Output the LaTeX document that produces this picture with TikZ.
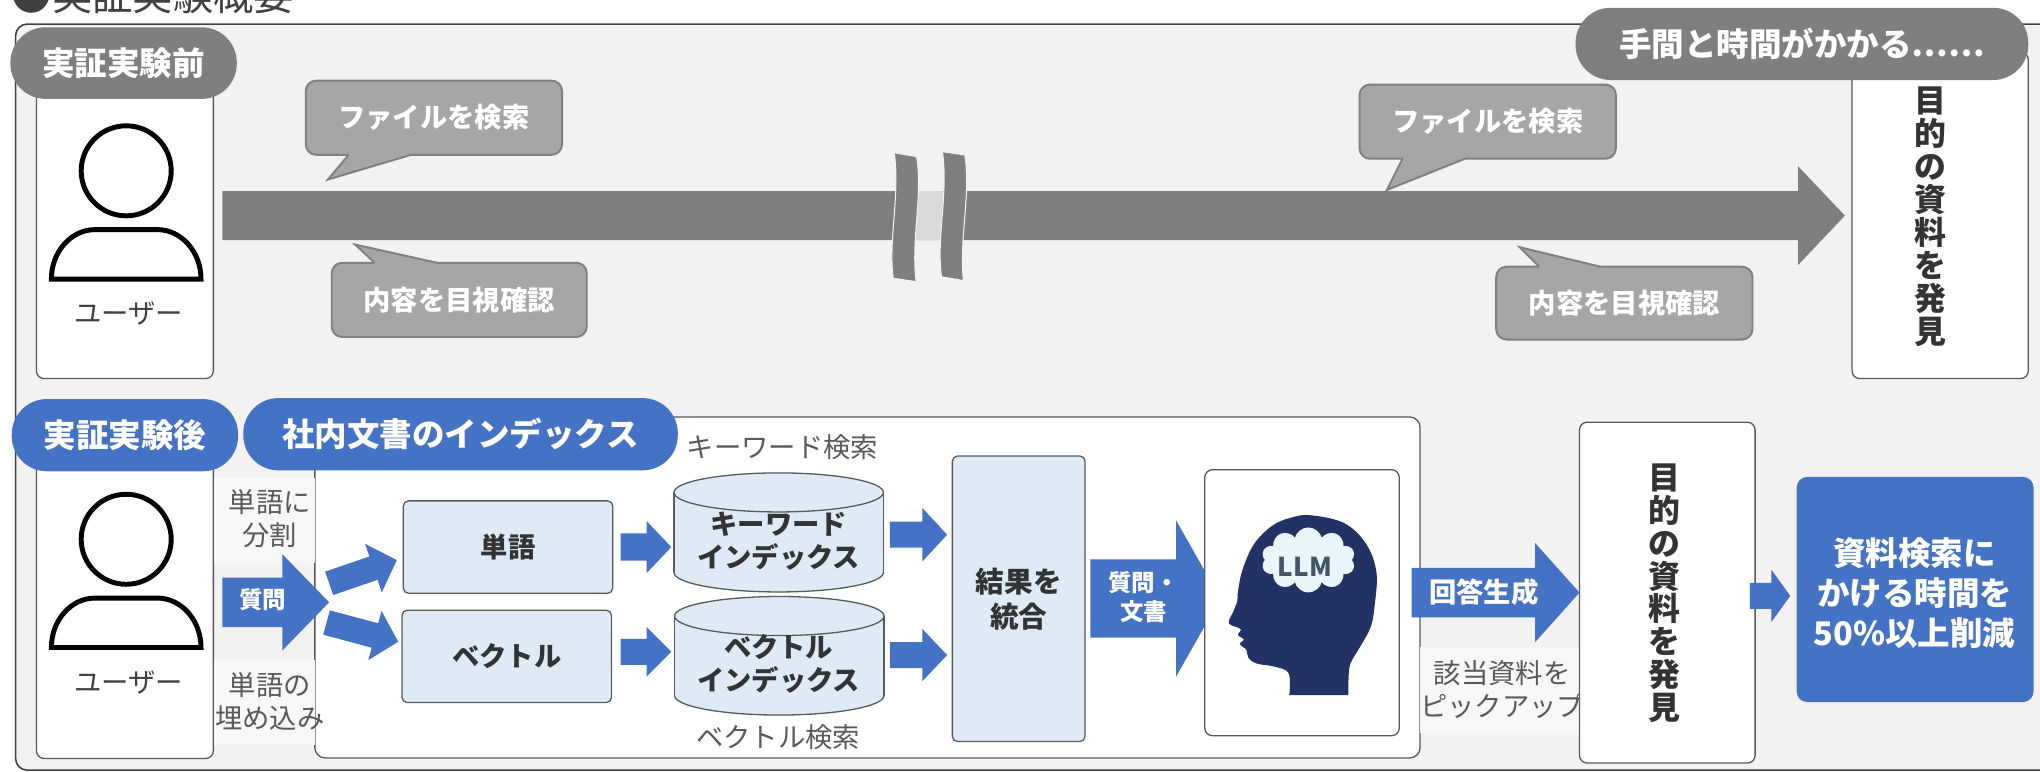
\documentclass[tikz,border=0pt]{standalone}
\usepackage{fontspec}
\setmainfont{Noto Sans CJK JP}
\usetikzlibrary{shapes.symbols}

\definecolor{framebg}{HTML}{F2F2F2}
\definecolor{framedark}{HTML}{404040}
\definecolor{frameln}{HTML}{595959}
\definecolor{pillgray}{HTML}{7F7F7F}
\definecolor{bubblebg}{HTML}{A6A6A6}
\definecolor{bubbleln}{HTML}{808080}
\definecolor{brkgap}{HTML}{D9D9D9}
\definecolor{accent}{HTML}{4472C4}
\definecolor{paleblue}{HTML}{DEEBF7}
\definecolor{navy}{HTML}{233264}
\definecolor{cloudc}{HTML}{E8F6FC}
\definecolor{llmtxt}{HTML}{44546A}
\definecolor{txtdark}{HTML}{333333}
\definecolor{txtgray}{HTML}{595959}
\definecolor{labelbg}{HTML}{F7F7F7}

% block arrow: style, tail x, tail y, angle, shaft length, total length, shaft half width, head half width
\newcommand{\blockarrow}[8]{%
  \fill[#1,shift={(#2,#3)},rotate=#4] (0,-#7) -- (#5,-#7) -- (#5,-#8) -- (#6,0)
    -- (#5,#8) -- (#5,#7) -- (0,#7) -- cycle;}

% person outline, placed by the centre of its head
\newcommand{\usericon}[2]{%
  \begin{scope}[shift={(#1,#2)}]
    \draw[line width=3.8pt, fill=white] (0,0) circle[radius=34.6pt];
    \draw[line width=3.8pt, fill=white] (-57.5,83.2) -- (57.5,83.2)
      .. controls (57.5,62.3) and (42.4,45.2) .. (24,45.2) -- (-24,45.2)
      .. controls (-42.4,45.2) and (-57.5,62.3) .. (-57.5,83.2) -- cycle;
  \end{scope}}

% database drum: centre x, top ellipse y, bottom ellipse y, x radius
\newcommand{\drum}[4]{%
  \draw[fill=paleblue, draw=frameln, line width=1pt] (#1,#3) ellipse[x radius=#4pt, y radius=15pt];
  \fill[paleblue] (#1-#4,#2) rectangle (#1+#4,#3);
  \draw[frameln, line width=1pt] (#1-#4,#2) -- (#1-#4,#3) (#1+#4,#2) -- (#1+#4,#3);
  \draw[fill=paleblue, draw=frameln, line width=1pt] (#1,#2) ellipse[x radius=#4pt, y radius=15pt];}

\begin{document}
\begin{tikzpicture}[x=1pt, y=-1pt,
  every node/.style={inner sep=0pt, outer sep=0pt},
  panel/.style={draw=frameln, line width=1pt, fill=white, rounded corners=6pt},
  palebox/.style={draw=frameln, line width=1pt, fill=paleblue, rounded corners=4pt},
  pill/.style={fill=#1, rounded corners=27pt, text=white, font=\fontsize{25}{25}\selectfont\bfseries},
  bubble/.style={fill=bubblebg, draw=bubbleln, line width=1.5pt, rounded corners=8pt},
  bubbletext/.style={text=white, font=\fontsize{21}{21}\selectfont\bfseries},
  note/.style={text=txtgray, font=\fontsize{21}{25.5}\selectfont, align=center},
  boxtext/.style={text=txtdark, font=\fontsize{21}{25.4}\selectfont\bfseries, align=center},
  vtext/.style={text=txtdark, font=\fontsize{24.5}{25.3}\selectfont\bfseries, align=center},
  labelrect/.style={fill=labelbg},
]
\useasboundingbox (0,0) rectangle (1568,593);
\clip (0,0) rectangle (1568,593);

% heading
\node[anchor=base west, text=framedark, font=\fontsize{31}{31}\selectfont] (heading) at (9,8) {●実証実験概要};

% outer panel
\draw[fill=framebg, draw=framedark, line width=1.2pt, rounded corners=9pt] (12,18.5) rectangle (1620,592);

% ---------- before ----------
\node[panel, minimum width=136pt, minimum height=231pt] (userA) at (96,175.5) {};
\usericon{97}{131.3}
\node[note, text=framedark] (userAname) at (99,241) {ユーザー};
\node[pill=pillgray, minimum width=174pt, minimum height=55pt] (before) at (95,48.5) {実証実験前};

% long manual path with a break
\blockarrow{pillgray}{171}{165.75}{0}{1211}{1247}{18.75}{38}
\fill[brkgap] (703,147) rectangle (725,184.5);
\filldraw[fill=pillgray, draw=framebg, line width=0.8pt]
  (687.3,117.4) -- (704.5,120.4) .. controls (709.5,150) and (700,185) .. (704.2,216.5)
  -- (686.6,213.9) .. controls (682.5,185) and (692,150) .. (687.3,117.4) -- cycle;
\filldraw[fill=pillgray, draw=framebg, line width=0.8pt]
  (724.4,116.6) -- (741.5,119.1) .. controls (746.5,149) and (737,184) .. (740.5,215.7)
  -- (723.7,212.7) .. controls (719.5,184) and (729,149) .. (724.4,116.6) -- cycle;

% speech bubbles
\draw[bubble] (235,62) rectangle (432,119);
\fill[bubblebg] (268,116) -- (268,119) -- (252,138) -- (316,119) -- (316,116) -- cycle;
\draw[bubbleln, line width=1.5pt] (268,119) -- (252,138) -- (316,119);
\node[bubbletext] (searchA) at (333.5,90.5) {ファイルを検索};

\draw[bubble] (255,202) rectangle (451,259);
\fill[bubblebg] (288,205) -- (288,202) -- (273,188) -- (336,202) -- (336,205) -- cycle;
\draw[bubbleln, line width=1.5pt] (288,202) -- (273,188) -- (336,202);
\node[bubbletext] (checkA) at (353,231) {内容を目視確認};

\draw[bubble] (1045,65) rectangle (1242,122);
\fill[bubblebg] (1078,119) -- (1078,122) -- (1066,146) -- (1126,122) -- (1126,119) -- cycle;
\draw[bubbleln, line width=1.5pt] (1078,122) -- (1066,146) -- (1126,122);
\node[bubbletext] (searchB) at (1143.5,93.5) {ファイルを検索};

\draw[bubble] (1150,205) rectangle (1347,261);
\fill[bubblebg] (1183,208) -- (1183,205) -- (1168,190) -- (1230,205) -- (1230,208) -- cycle;
\draw[bubbleln, line width=1.5pt] (1183,205) -- (1168,190) -- (1230,205);
\node[bubbletext] (checkB) at (1248.5,233) {内容を目視確認};

% result before
\node[panel, minimum width=135.5pt, minimum height=251pt] (goalA) at (1491.25,165.5) {};
\node[vtext] (goalAtext) at (1483.5,166.5) {目\\的\\の\\資\\料\\を\\発\\見};
\node[pill=pillgray, minimum width=348pt, minimum height=55.5pt] (effort) at (1385,33.75) {手間と時間がかかる⋯⋯};

% ---------- after ----------
\node[panel, minimum width=136pt, minimum height=238pt] (userB) at (96,464) {};
\usericon{97}{414.5}
\node[note, text=framedark] (userBname) at (99,525) {ユーザー};

\node[panel, rounded corners=8pt, minimum width=849.5pt, minimum height=262.1pt] (index) at (666.75,451.55) {};

\node[pill=accent, minimum width=174pt, minimum height=55.5pt] (after) at (96,334.5) {実証実験後};
\node[pill=accent, minimum width=334pt, minimum height=55.5pt] (indexhead) at (354,333.75) {社内文書のインデックス};

% side notes
\node[labelrect, minimum width=77.4pt, minimum height=65.5pt] (splitbg) at (203.3,400.25) {};
\node[note] (split) at (207.5,398.5) {単語に\\分割};
\node[labelrect, minimum width=77.4pt, minimum height=66pt] (embedbg) at (203.3,540) {};
\node[note] (embed) at (207.5,539.3) {単語の\\埋め込み};

% question
\blockarrow{accent}{171}{463}{0}{46}{82}{19}{37}
\node[text=white, font=\fontsize{18}{18}\selectfont\bfseries] (question) at (202,461) {質問};
\blockarrow{accent}{253}{448.4}{19}{36}{55}{9.5}{19.7}
\blockarrow{accent}{251}{478.5}{-15}{38.5}{57}{9.7}{19.6}

\node[palebox, minimum width=161pt, minimum height=71pt] (word) at (390.5,420.5) {};
\node[boxtext] (wordtext) at (390.5,420.5) {単語};
\node[palebox, minimum width=161pt, minimum height=71pt] (vector) at (389.5,504.5) {};
\node[boxtext] (vectortext) at (389.5,504.5) {ベクトル};

\blockarrow{accent}{477}{420.5}{0}{20}{39}{10.5}{20}
\blockarrow{accent}{477}{501}{0}{20}{39}{10}{19}

% indexes
\node[note] (kwsearch) at (601.5,343.5) {キーワード検索};
\drum{598.5}{378.5}{440}{80.5}
\node[boxtext] (kwindex) at (598.5,416.3) {キーワード\\インデックス};
\drum{599}{473.5}{534.6}{80.5}
\node[boxtext] (vecindex) at (598.5,510.5) {ベクトル\\インデックス};
\node[note] (vecsearch) at (598,566.5) {ベクトル検索};

\blockarrow{accent}{684}{411}{0}{25}{44}{10}{20.5}
\blockarrow{accent}{684}{503.5}{0}{25}{44}{10}{20}

\node[palebox, minimum width=102pt, minimum height=219.5pt] (merge) at (783,460.25) {};
\node[boxtext, font=\fontsize{22}{27}\selectfont\bfseries] (mergetext) at (783,460.5) {結果を\\統合};

\blockarrow{accent}{838}{460}{0}{66}{100}{30}{60}
\node[text=white, font=\fontsize{18}{22}\selectfont\bfseries, align=center] (qdoc) at (879,459) {質問・\\文書};

% language model
\node[panel, minimum width=149.5pt, minimum height=204.5pt] (llmbox) at (1000.75,463.25) {};
\fill[navy] plot[smooth, tension=0.6] coordinates {
  (991,534.2) (990.5,517.5) (980,512.5) (966,510) (959.5,505.5) (958,499.5)
  (953,495) (956,491.5) (951.5,488) (953.5,483.5) (944.5,479) (948,470)
  (951,462) (951.5,455) (955,438) (964,418) (978,404) (992,398) (1007,396)
  (1033,402) (1050,418) (1058,440) (1056.5,466) (1053.5,482) (1045.5,497)
  (1038,510) (1036.5,522) (1036.4,534.2)} -- cycle;
\node[cloud, cloud puffs=10, aspect=1.45, fill=cloudc, minimum width=72pt, minimum height=50pt] (thought) at (1005.6,430.4) {};
\node[text=llmtxt, font=\fontsize{20}{20}\selectfont\bfseries] (llm) at (1003,436) {LLM};

% answer
\blockarrow{accent}{1085}{455.5}{0}{95}{129}{19}{38}
\node[text=white, font=\fontsize{21}{21}\selectfont\bfseries] (answer) at (1140.6,455) {回答生成};
\node[labelrect, minimum width=122.5pt, minimum height=66.6pt] (pickbg) at (1152.75,530.3) {};
\node[note] (pick) at (1154.5,529.8) {該当資料を\\ピックアップ};

\node[panel, minimum width=135pt, minimum height=262pt] (goalB) at (1281.5,455.5) {};
\node[vtext] (goalBtext) at (1279,456) {目\\的\\の\\資\\料\\を\\発\\見};

\blockarrow{accent}{1345}{458}{0}{16.6}{31}{10}{20}
\node[fill=accent, rounded corners=8pt, minimum width=182pt, minimum height=173pt] (outcome) at (1472,453.1) {};
\node[text=white, font=\fontsize{25}{30.5}\selectfont\bfseries, align=center] (outcometext) at (1471.6,456) {資料検索に\\かける時間を\\50\%以上削減};
\end{tikzpicture}
\end{document}
